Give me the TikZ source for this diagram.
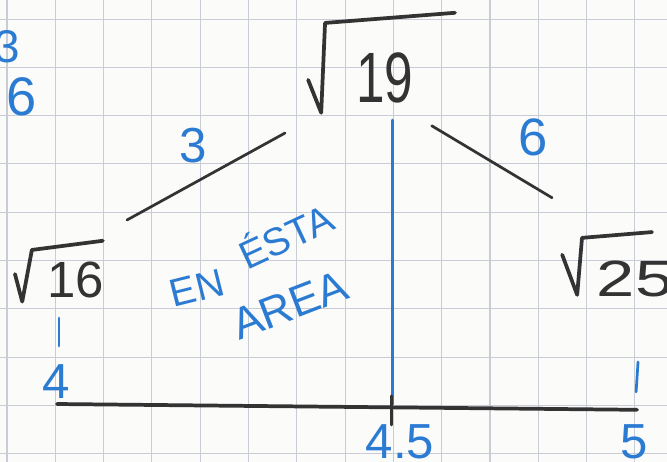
\documentclass[tikz,border=0pt]{standalone}
\usepackage{fontspec}
\setmainfont{Liberation Sans}
\definecolor{pen}{HTML}{2C7BD2}
\definecolor{ink}{HTML}{333333}
\definecolor{paper}{HTML}{FBFBFA}
\definecolor{rule}{HTML}{C8CDD5}

\begin{document}
\begin{tikzpicture}[
  sq/.style={draw=rule, line width=0.6pt},
  stroke/.style={draw=ink, line width=2.2pt, line cap=round, line join=round},
  thin/.style={draw=ink, line width=1.6pt, line cap=round},
  bluestroke/.style={draw=pen, line width=1.6pt, line cap=round},
  root/.style={text=ink, inner sep=0pt, font=\fontsize{30}{30}\selectfont},
  note/.style={text=pen, inner sep=0pt, font=\fontsize{29}{29}\selectfont},
  word/.style={text=pen, inner sep=0pt, font=\fontsize{23}{23}\selectfont}
]
\fill[paper] (0,0) rectangle (13.81,9.565);
\useasboundingbox (0,0) rectangle (13.81,9.565);

% squared paper
\foreach \x in {0,...,13} \draw[sq] (0.145+\x,0) -- (0.145+\x,9.565);
\foreach \y in {0,...,9} \draw[sq] (0,0.17+\y) -- (13.81,0.17+\y);

% side notes
\node[note, font=\fontsize{27}{27}\selectfont] (m3) at (0.14,8.60) {3};
\node[note, font=\fontsize{32}{32}\selectfont] (m6) at (0.44,7.56) {6};

% roots
\node[root, font=\fontsize{42}{42}\selectfont, xscale=0.72] (n19) at (7.97,7.95) {19};
\node[root] (n16) at (1.57,3.77) {16};
\node[root, xscale=1.35] (n25) at (13.15,3.79) {25};

\draw[stroke] (6.38,7.91) -- (6.65,7.23) -- (6.73,9.09) -- (9.42,9.30);
\draw[stroke] (0.31,3.89) -- (0.46,3.32) -- (0.66,4.39) -- (2.13,4.58);
\draw[stroke] (11.64,4.29) -- (11.95,3.46) -- (12.05,4.64) -- (13.50,4.76);

% edges
\coordinate (c16) at (2.63,5.01);
\coordinate (c19l) at (5.90,6.81);
\coordinate (c19r) at (8.94,6.96);
\coordinate (c25) at (11.43,5.47);
\draw[thin] (c16) -- (c19l);
\draw[thin] (c19r) -- (c25);
\node[note] (w3) at (4.00,6.56) {3};
\node[note, font=\fontsize{31}{31}\selectfont] (w6) at (11.04,6.73) {6};

% area
\node[word, rotate=14] (wEN) at (4.08,3.60) {EN};
\node[word, rotate=25] (wESTA) at (5.90,4.72) {ÉSTA};
\node[word, font=\fontsize{26}{26}\selectfont, rotate=21] (wAREA) at (6.00,3.25) {AREA};

% axis
\coordinate (x4) at (1.18,1.20);
\coordinate (x5) at (13.19,1.08);
\draw[stroke] (x4) -- (x5);
\draw[bluestroke] (8.12,7.08) -- (8.12,1.19);
\draw[stroke, line width=1.8pt] (8.10,1.37) -- (8.10,0.77);
\draw[bluestroke] (1.22,2.98) -- (1.22,2.40);
\draw[bluestroke] (13.21,2.07) -- (13.17,1.45);
\node[note] (t4) at (1.16,1.66) {4};
\node[note] (t45) at (8.28,0.42) {4.5};
\node[note] (t5) at (13.13,0.42) {5};
\end{tikzpicture}
\end{document}
